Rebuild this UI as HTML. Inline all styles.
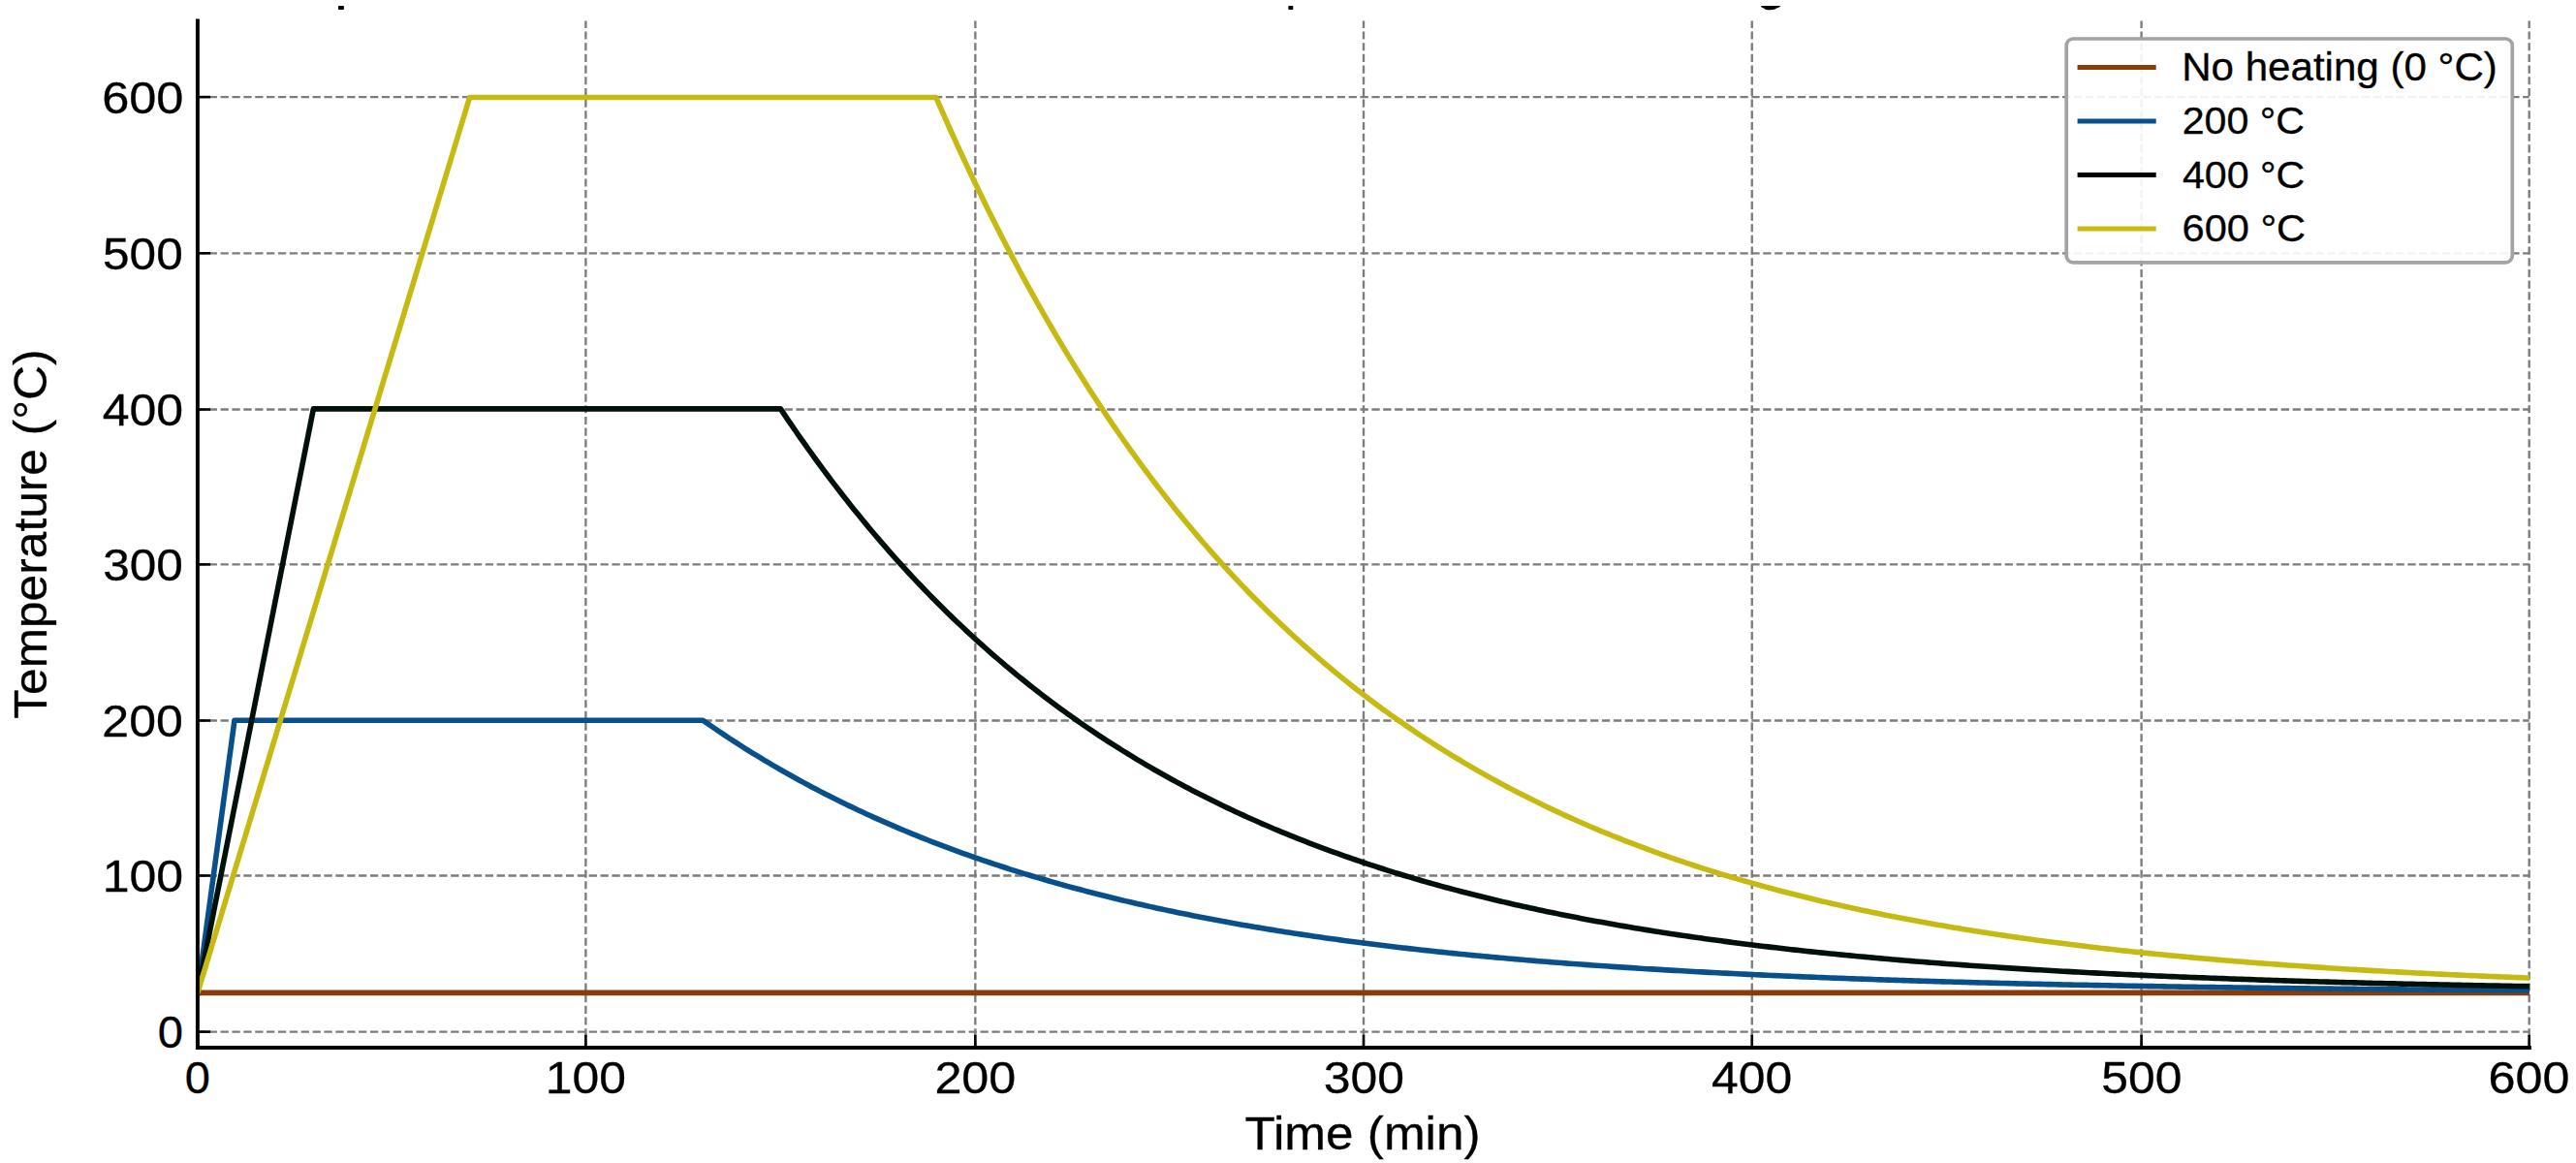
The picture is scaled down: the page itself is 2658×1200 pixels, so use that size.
<!DOCTYPE html>
<html><head><meta charset="utf-8"><title>Temperature profiles</title>
<style>html,body{margin:0;padding:0;background:#fff;width:2658px;height:1200px;overflow:hidden}svg{display:block}text{font-family:"Liberation Sans",sans-serif}</style>
</head><body>
<svg width="2658" height="1200" viewBox="0 0 2658 1200"><rect x="0" y="0" width="2658" height="1200" fill="#ffffff"/>
<g fill="#000">
<rect x="349" y="5.9" width="5.9" height="4.1" rx="0.8"/>
<rect x="1329.3" y="6.1" width="5" height="3.9" rx="0.8"/>
<path d="M1816.7 6 L1837.3 6 Q1836.5 7.6 1833 8.6 Q1831.5 10.3 1826.5 10.3 Q1821.5 10.3 1820.5 8.8 Q1817.3 8.0 1816.7 6 Z"/>
</g>
<g stroke="#7c7c7c" stroke-width="2.35" fill="none">
<g stroke-dasharray="8.29 3.588">
<path d="M203.8 1064.6 H2609.7"/>
<path d="M203.8 903.5 H2609.7"/>
<path d="M203.8 743.5 H2609.7"/>
<path d="M203.8 582.4 H2609.7"/>
<path d="M203.8 422.5 H2609.7"/>
<path d="M203.8 261.3 H2609.7"/>
<path d="M203.8 100.1 H2609.7"/>
</g>
<g stroke-dasharray="8.15 3.54">
<path d="M204.05 1081 V21.4"/>
<path d="M604.4 1081 V21.4"/>
<path d="M1006.35 1081 V21.4"/>
<path d="M1407 1081 V21.4"/>
<path d="M1807.75 1081 V21.4"/>
<path d="M2209.6 1081 V21.4"/>
<path d="M2609.7 1081 V21.4"/>
</g>
</g>
<defs><clipPath id="ax"><rect x="203.89" y="21.4" width="2406.01" height="1059.6"/></clipPath></defs>
<g clip-path="url(#ax)" fill="none" stroke-width="5.6" stroke-linejoin="round" stroke-linecap="square">
<path d="M203.89 1024.42 L2610.07 1024.42" stroke="#8a3b06"/>
<path d="M203.89 1024.42 L241.99 743.24 L725.23 743.24 L729.24 746.04 L733.25 748.81 L737.26 751.55 L741.27 754.27 L745.28 756.95 L749.29 759.61 L753.3 762.25 L757.31 764.86 L761.32 767.44 L765.33 770 L769.34 772.53 L773.35 775.04 L777.36 777.52 L781.37 779.97 L785.38 782.41 L789.39 784.81 L793.4 787.2 L797.41 789.56 L801.42 791.9 L805.43 794.21 L809.45 796.5 L813.46 798.77 L817.47 801.01 L821.48 803.24 L825.49 805.44 L829.5 807.62 L833.51 809.77 L837.52 811.91 L841.53 814.02 L845.54 816.12 L849.55 818.19 L853.56 820.24 L857.57 822.27 L861.58 824.28 L865.59 826.28 L869.6 828.25 L873.61 830.2 L877.62 832.13 L881.63 834.05 L885.64 835.94 L889.65 837.82 L893.66 839.67 L897.67 841.51 L901.68 843.33 L905.69 845.13 L909.7 846.92 L913.71 848.68 L917.72 850.43 L921.73 852.16 L925.74 853.88 L929.75 855.57 L933.76 857.25 L937.77 858.92 L941.79 860.56 L945.8 862.19 L949.81 863.81 L953.82 865.41 L957.83 866.99 L961.84 868.55 L965.85 870.11 L969.86 871.64 L973.87 873.16 L977.88 874.67 L981.89 876.16 L985.9 877.63 L989.91 879.09 L993.92 880.54 L997.93 881.97 L1001.94 883.39 L1005.95 884.79 L1009.96 886.18 L1013.97 887.56 L1017.98 888.92 L1021.99 890.27 L1026 891.6 L1030.01 892.92 L1034.02 894.23 L1038.03 895.53 L1042.04 896.81 L1046.05 898.08 L1050.06 899.34 L1054.07 900.58 L1058.08 901.81 L1062.09 903.03 L1066.1 904.24 L1070.11 905.44 L1074.13 906.62 L1078.14 907.79 L1082.15 908.95 L1086.16 910.1 L1090.17 911.24 L1094.18 912.37 L1098.19 913.48 L1102.2 914.58 L1106.21 915.68 L1110.22 916.76 L1114.23 917.83 L1118.24 918.89 L1122.25 919.94 L1126.26 920.98 L1130.27 922.01 L1134.28 923.03 L1138.29 924.04 L1142.3 925.04 L1146.31 926.03 L1150.32 927 L1154.33 927.97 L1158.34 928.93 L1162.35 929.88 L1166.36 930.82 L1170.37 931.76 L1174.38 932.68 L1178.39 933.59 L1182.4 934.49 L1186.41 935.39 L1190.42 936.27 L1194.43 937.15 L1198.44 938.02 L1202.45 938.88 L1206.47 939.73 L1210.48 940.57 L1214.49 941.41 L1218.5 942.23 L1222.51 943.05 L1226.52 943.86 L1230.53 944.66 L1234.54 945.46 L1238.55 946.24 L1242.56 947.02 L1246.57 947.79 L1250.58 948.55 L1254.59 949.31 L1258.6 950.06 L1262.61 950.8 L1266.62 951.53 L1270.63 952.25 L1274.64 952.97 L1278.65 953.68 L1282.66 954.39 L1286.67 955.08 L1290.68 955.77 L1294.69 956.46 L1298.7 957.13 L1302.71 957.8 L1306.72 958.46 L1310.73 959.12 L1314.74 959.77 L1318.75 960.41 L1322.76 961.05 L1326.77 961.68 L1330.78 962.31 L1334.79 962.92 L1338.8 963.54 L1342.82 964.14 L1346.83 964.74 L1350.84 965.33 L1354.85 965.92 L1358.86 966.5 L1362.87 967.08 L1366.88 967.65 L1370.89 968.22 L1374.9 968.78 L1378.91 969.33 L1382.92 969.88 L1386.93 970.42 L1390.94 970.96 L1394.95 971.49 L1398.96 972.02 L1402.97 972.54 L1406.98 973.05 L1410.99 973.57 L1415 974.07 L1419.01 974.57 L1423.02 975.07 L1427.03 975.56 L1431.04 976.05 L1435.05 976.53 L1439.06 977 L1443.07 977.48 L1447.08 977.94 L1451.09 978.4 L1455.1 978.86 L1459.11 979.32 L1463.12 979.76 L1467.13 980.21 L1471.14 980.65 L1475.16 981.08 L1479.17 981.52 L1483.18 981.94 L1487.19 982.37 L1491.2 982.78 L1495.21 983.2 L1499.22 983.61 L1503.23 984.01 L1507.24 984.42 L1511.25 984.81 L1515.26 985.21 L1519.27 985.6 L1523.28 985.99 L1527.29 986.37 L1531.3 986.75 L1535.31 987.12 L1539.32 987.49 L1543.33 987.86 L1547.34 988.22 L1551.35 988.58 L1555.36 988.94 L1559.37 989.29 L1563.38 989.64 L1567.39 989.99 L1571.4 990.33 L1575.41 990.67 L1579.42 991.01 L1583.43 991.34 L1587.44 991.67 L1591.45 991.99 L1595.46 992.32 L1599.47 992.64 L1603.48 992.95 L1607.49 993.27 L1611.51 993.58 L1615.52 993.88 L1619.53 994.19 L1623.54 994.49 L1627.55 994.78 L1631.56 995.08 L1635.57 995.37 L1639.58 995.66 L1643.59 995.95 L1647.6 996.23 L1651.61 996.51 L1655.62 996.79 L1659.63 997.06 L1663.64 997.34 L1667.65 997.61 L1671.66 997.87 L1675.67 998.14 L1679.68 998.4 L1683.69 998.66 L1687.7 998.91 L1691.71 999.17 L1695.72 999.42 L1699.73 999.67 L1703.74 999.91 L1707.75 1000.16 L1711.76 1000.4 L1715.77 1000.64 L1719.78 1000.87 L1723.79 1001.11 L1727.8 1001.34 L1731.81 1001.57 L1735.82 1001.8 L1739.83 1002.02 L1743.85 1002.25 L1747.86 1002.47 L1751.87 1002.68 L1755.88 1002.9 L1759.89 1003.12 L1763.9 1003.33 L1767.91 1003.54 L1771.92 1003.74 L1775.93 1003.95 L1779.94 1004.15 L1783.95 1004.36 L1787.96 1004.56 L1791.97 1004.75 L1795.98 1004.95 L1799.99 1005.14 L1804 1005.33 L1808.01 1005.52 L1812.02 1005.71 L1816.03 1005.9 L1820.04 1006.08 L1824.05 1006.27 L1828.06 1006.45 L1832.07 1006.62 L1836.08 1006.8 L1840.09 1006.98 L1844.1 1007.15 L1848.11 1007.32 L1852.12 1007.49 L1856.13 1007.66 L1860.14 1007.83 L1864.15 1007.99 L1868.16 1008.16 L1872.17 1008.32 L1876.19 1008.48 L1880.2 1008.64 L1884.21 1008.79 L1888.22 1008.95 L1892.23 1009.1 L1896.24 1009.26 L1900.25 1009.41 L1904.26 1009.56 L1908.27 1009.7 L1912.28 1009.85 L1916.29 1010 L1920.3 1010.14 L1924.31 1010.28 L1928.32 1010.42 L1932.33 1010.56 L1936.34 1010.7 L1940.35 1010.84 L1944.36 1010.97 L1948.37 1011.1 L1952.38 1011.24 L1956.39 1011.37 L1960.4 1011.5 L1964.41 1011.63 L1968.42 1011.75 L1972.43 1011.88 L1976.44 1012.01 L1980.45 1012.13 L1984.46 1012.25 L1988.47 1012.37 L1992.48 1012.49 L1996.49 1012.61 L2000.5 1012.73 L2004.51 1012.84 L2008.53 1012.96 L2012.54 1013.07 L2016.55 1013.19 L2020.56 1013.3 L2024.57 1013.41 L2028.58 1013.52 L2032.59 1013.63 L2036.6 1013.73 L2040.61 1013.84 L2044.62 1013.95 L2048.63 1014.05 L2052.64 1014.15 L2056.65 1014.26 L2060.66 1014.36 L2064.67 1014.46 L2068.68 1014.56 L2072.69 1014.65 L2076.7 1014.75 L2080.71 1014.85 L2084.72 1014.94 L2088.73 1015.04 L2092.74 1015.13 L2096.75 1015.22 L2100.76 1015.31 L2104.77 1015.41 L2108.78 1015.49 L2112.79 1015.58 L2116.8 1015.67 L2120.81 1015.76 L2124.82 1015.84 L2128.83 1015.93 L2132.84 1016.01 L2136.85 1016.1 L2140.86 1016.18 L2144.88 1016.26 L2148.89 1016.34 L2152.9 1016.42 L2156.91 1016.5 L2160.92 1016.58 L2164.93 1016.66 L2168.94 1016.74 L2172.95 1016.81 L2176.96 1016.89 L2180.97 1016.97 L2184.98 1017.04 L2188.99 1017.11 L2193 1017.19 L2197.01 1017.26 L2201.02 1017.33 L2205.03 1017.4 L2209.04 1017.47 L2213.05 1017.54 L2217.06 1017.61 L2221.07 1017.67 L2225.08 1017.74 L2229.09 1017.81 L2233.1 1017.87 L2237.11 1017.94 L2241.12 1018 L2245.13 1018.07 L2249.14 1018.13 L2253.15 1018.19 L2257.16 1018.26 L2261.17 1018.32 L2265.18 1018.38 L2269.19 1018.44 L2273.2 1018.5 L2277.22 1018.56 L2281.23 1018.61 L2285.24 1018.67 L2289.25 1018.73 L2293.26 1018.79 L2297.27 1018.84 L2301.28 1018.9 L2305.29 1018.95 L2309.3 1019.01 L2313.31 1019.06 L2317.32 1019.11 L2321.33 1019.17 L2325.34 1019.22 L2329.35 1019.27 L2333.36 1019.32 L2337.37 1019.37 L2341.38 1019.42 L2345.39 1019.47 L2349.4 1019.52 L2353.41 1019.57 L2357.42 1019.62 L2361.43 1019.67 L2365.44 1019.71 L2369.45 1019.76 L2373.46 1019.81 L2377.47 1019.85 L2381.48 1019.9 L2385.49 1019.94 L2389.5 1019.99 L2393.51 1020.03 L2397.52 1020.08 L2401.53 1020.12 L2405.54 1020.16 L2409.55 1020.2 L2413.57 1020.25 L2417.58 1020.29 L2421.59 1020.33 L2425.6 1020.37 L2429.61 1020.41 L2433.62 1020.45 L2437.63 1020.49 L2441.64 1020.53 L2445.65 1020.57 L2449.66 1020.61 L2453.67 1020.64 L2457.68 1020.68 L2461.69 1020.72 L2465.7 1020.76 L2469.71 1020.79 L2473.72 1020.83 L2477.73 1020.86 L2481.74 1020.9 L2485.75 1020.93 L2489.76 1020.97 L2493.77 1021 L2497.78 1021.04 L2501.79 1021.07 L2505.8 1021.1 L2509.81 1021.14 L2513.82 1021.17 L2517.83 1021.2 L2521.84 1021.23 L2525.85 1021.27 L2529.86 1021.3 L2533.87 1021.33 L2537.88 1021.36 L2541.89 1021.39 L2545.91 1021.42 L2549.92 1021.45 L2553.93 1021.48 L2557.94 1021.51 L2561.95 1021.54 L2565.96 1021.57 L2569.97 1021.59 L2573.98 1021.62 L2577.99 1021.65 L2582 1021.68 L2586.01 1021.71 L2590.02 1021.73 L2594.03 1021.76 L2598.04 1021.79 L2602.05 1021.81 L2606.06 1021.84 L2610.07 1021.86" stroke="#07508c"/>
<path d="M203.89 1024.42 L323.4 421.89 L805.43 421.89 L809.45 427.89 L813.46 433.82 L817.47 439.7 L821.48 445.52 L825.49 451.28 L829.5 456.98 L833.51 462.62 L837.52 468.21 L841.53 473.75 L845.54 479.23 L849.55 484.65 L853.56 490.02 L857.57 495.34 L861.58 500.61 L865.59 505.82 L869.6 510.98 L873.61 516.09 L877.62 521.14 L881.63 526.15 L885.64 531.11 L889.65 536.02 L893.66 540.88 L897.67 545.69 L901.68 550.45 L905.69 555.17 L909.7 559.84 L913.71 564.46 L917.72 569.04 L921.73 573.57 L925.74 578.06 L929.75 582.5 L933.76 586.89 L937.77 591.25 L941.79 595.56 L945.8 599.82 L949.81 604.05 L953.82 608.23 L957.83 612.37 L961.84 616.47 L965.85 620.53 L969.86 624.55 L973.87 628.53 L977.88 632.47 L981.89 636.37 L985.9 640.23 L989.91 644.05 L993.92 647.84 L997.93 651.58 L1001.94 655.29 L1005.95 658.97 L1009.96 662.6 L1013.97 666.2 L1017.98 669.77 L1021.99 673.3 L1026 676.79 L1030.01 680.25 L1034.02 683.67 L1038.03 687.06 L1042.04 690.42 L1046.05 693.75 L1050.06 697.04 L1054.07 700.29 L1058.08 703.52 L1062.09 706.71 L1066.1 709.87 L1070.11 713 L1074.13 716.1 L1078.14 719.17 L1082.15 722.21 L1086.16 725.21 L1090.17 728.19 L1094.18 731.14 L1098.19 734.06 L1102.2 736.95 L1106.21 739.81 L1110.22 742.64 L1114.23 745.44 L1118.24 748.22 L1122.25 750.97 L1126.26 753.69 L1130.27 756.38 L1134.28 759.05 L1138.29 761.69 L1142.3 764.3 L1146.31 766.89 L1150.32 769.45 L1154.33 771.99 L1158.34 774.5 L1162.35 776.99 L1166.36 779.45 L1170.37 781.89 L1174.38 784.3 L1178.39 786.69 L1182.4 789.06 L1186.41 791.4 L1190.42 793.72 L1194.43 796.01 L1198.44 798.28 L1202.45 800.53 L1206.47 802.76 L1210.48 804.97 L1214.49 807.15 L1218.5 809.31 L1222.51 811.45 L1226.52 813.57 L1230.53 815.67 L1234.54 817.75 L1238.55 819.8 L1242.56 821.84 L1246.57 823.86 L1250.58 825.85 L1254.59 827.83 L1258.6 829.78 L1262.61 831.72 L1266.62 833.64 L1270.63 835.54 L1274.64 837.42 L1278.65 839.28 L1282.66 841.12 L1286.67 842.94 L1290.68 844.75 L1294.69 846.54 L1298.7 848.31 L1302.71 850.06 L1306.72 851.79 L1310.73 853.51 L1314.74 855.21 L1318.75 856.9 L1322.76 858.56 L1326.77 860.21 L1330.78 861.85 L1334.79 863.46 L1338.8 865.07 L1342.82 866.65 L1346.83 868.22 L1350.84 869.78 L1354.85 871.31 L1358.86 872.84 L1362.87 874.35 L1366.88 875.84 L1370.89 877.32 L1374.9 878.78 L1378.91 880.23 L1382.92 881.66 L1386.93 883.09 L1390.94 884.49 L1394.95 885.88 L1398.96 887.26 L1402.97 888.63 L1406.98 889.98 L1410.99 891.32 L1415 892.64 L1419.01 893.95 L1423.02 895.25 L1427.03 896.54 L1431.04 897.81 L1435.05 899.07 L1439.06 900.31 L1443.07 901.55 L1447.08 902.77 L1451.09 903.98 L1455.1 905.18 L1459.11 906.37 L1463.12 907.54 L1467.13 908.71 L1471.14 909.86 L1475.16 911 L1479.17 912.13 L1483.18 913.24 L1487.19 914.35 L1491.2 915.44 L1495.21 916.53 L1499.22 917.6 L1503.23 918.66 L1507.24 919.72 L1511.25 920.76 L1515.26 921.79 L1519.27 922.81 L1523.28 923.82 L1527.29 924.82 L1531.3 925.81 L1535.31 926.8 L1539.32 927.77 L1543.33 928.73 L1547.34 929.68 L1551.35 930.62 L1555.36 931.56 L1559.37 932.48 L1563.38 933.4 L1567.39 934.3 L1571.4 935.2 L1575.41 936.09 L1579.42 936.96 L1583.43 937.84 L1587.44 938.7 L1591.45 939.55 L1595.46 940.39 L1599.47 941.23 L1603.48 942.06 L1607.49 942.88 L1611.51 943.69 L1615.52 944.49 L1619.53 945.29 L1623.54 946.07 L1627.55 946.85 L1631.56 947.63 L1635.57 948.39 L1639.58 949.15 L1643.59 949.9 L1647.6 950.64 L1651.61 951.37 L1655.62 952.1 L1659.63 952.82 L1663.64 953.53 L1667.65 954.24 L1671.66 954.93 L1675.67 955.63 L1679.68 956.31 L1683.69 956.99 L1687.7 957.66 L1691.71 958.32 L1695.72 958.98 L1699.73 959.63 L1703.74 960.28 L1707.75 960.91 L1711.76 961.55 L1715.77 962.17 L1719.78 962.79 L1723.79 963.41 L1727.8 964.01 L1731.81 964.61 L1735.82 965.21 L1739.83 965.8 L1743.85 966.38 L1747.86 966.96 L1751.87 967.53 L1755.88 968.1 L1759.89 968.66 L1763.9 969.21 L1767.91 969.76 L1771.92 970.3 L1775.93 970.84 L1779.94 971.38 L1783.95 971.9 L1787.96 972.43 L1791.97 972.94 L1795.98 973.46 L1799.99 973.96 L1804 974.47 L1808.01 974.96 L1812.02 975.45 L1816.03 975.94 L1820.04 976.42 L1824.05 976.9 L1828.06 977.37 L1832.07 977.84 L1836.08 978.31 L1840.09 978.77 L1844.1 979.22 L1848.11 979.67 L1852.12 980.11 L1856.13 980.56 L1860.14 980.99 L1864.15 981.42 L1868.16 981.85 L1872.17 982.28 L1876.19 982.69 L1880.2 983.11 L1884.21 983.52 L1888.22 983.93 L1892.23 984.33 L1896.24 984.73 L1900.25 985.12 L1904.26 985.52 L1908.27 985.9 L1912.28 986.29 L1916.29 986.67 L1920.3 987.04 L1924.31 987.41 L1928.32 987.78 L1932.33 988.15 L1936.34 988.51 L1940.35 988.86 L1944.36 989.22 L1948.37 989.57 L1952.38 989.92 L1956.39 990.26 L1960.4 990.6 L1964.41 990.93 L1968.42 991.27 L1972.43 991.6 L1976.44 991.92 L1980.45 992.25 L1984.46 992.57 L1988.47 992.88 L1992.48 993.2 L1996.49 993.51 L2000.5 993.82 L2004.51 994.12 L2008.53 994.42 L2012.54 994.72 L2016.55 995.02 L2020.56 995.31 L2024.57 995.6 L2028.58 995.89 L2032.59 996.17 L2036.6 996.45 L2040.61 996.73 L2044.62 997 L2048.63 997.28 L2052.64 997.55 L2056.65 997.82 L2060.66 998.08 L2064.67 998.34 L2068.68 998.6 L2072.69 998.86 L2076.7 999.11 L2080.71 999.36 L2084.72 999.61 L2088.73 999.86 L2092.74 1000.11 L2096.75 1000.35 L2100.76 1000.59 L2104.77 1000.82 L2108.78 1001.06 L2112.79 1001.29 L2116.8 1001.52 L2120.81 1001.75 L2124.82 1001.97 L2128.83 1002.2 L2132.84 1002.42 L2136.85 1002.64 L2140.86 1002.85 L2144.88 1003.07 L2148.89 1003.28 L2152.9 1003.49 L2156.91 1003.7 L2160.92 1003.91 L2164.93 1004.11 L2168.94 1004.31 L2172.95 1004.51 L2176.96 1004.71 L2180.97 1004.91 L2184.98 1005.1 L2188.99 1005.29 L2193 1005.48 L2197.01 1005.67 L2201.02 1005.86 L2205.03 1006.04 L2209.04 1006.23 L2213.05 1006.41 L2217.06 1006.59 L2221.07 1006.76 L2225.08 1006.94 L2229.09 1007.11 L2233.1 1007.29 L2237.11 1007.46 L2241.12 1007.63 L2245.13 1007.79 L2249.14 1007.96 L2253.15 1008.12 L2257.16 1008.28 L2261.17 1008.44 L2265.18 1008.6 L2269.19 1008.76 L2273.2 1008.92 L2277.22 1009.07 L2281.23 1009.22 L2285.24 1009.37 L2289.25 1009.52 L2293.26 1009.67 L2297.27 1009.82 L2301.28 1009.96 L2305.29 1010.11 L2309.3 1010.25 L2313.31 1010.39 L2317.32 1010.53 L2321.33 1010.67 L2325.34 1010.81 L2329.35 1010.94 L2333.36 1011.08 L2337.37 1011.21 L2341.38 1011.34 L2345.39 1011.47 L2349.4 1011.6 L2353.41 1011.73 L2357.42 1011.85 L2361.43 1011.98 L2365.44 1012.1 L2369.45 1012.22 L2373.46 1012.35 L2377.47 1012.47 L2381.48 1012.59 L2385.49 1012.7 L2389.5 1012.82 L2393.51 1012.94 L2397.52 1013.05 L2401.53 1013.16 L2405.54 1013.27 L2409.55 1013.39 L2413.57 1013.5 L2417.58 1013.6 L2421.59 1013.71 L2425.6 1013.82 L2429.61 1013.92 L2433.62 1014.03 L2437.63 1014.13 L2441.64 1014.23 L2445.65 1014.34 L2449.66 1014.44 L2453.67 1014.54 L2457.68 1014.63 L2461.69 1014.73 L2465.7 1014.83 L2469.71 1014.92 L2473.72 1015.02 L2477.73 1015.11 L2481.74 1015.2 L2485.75 1015.3 L2489.76 1015.39 L2493.77 1015.48 L2497.78 1015.56 L2501.79 1015.65 L2505.8 1015.74 L2509.81 1015.83 L2513.82 1015.91 L2517.83 1016 L2521.84 1016.08 L2525.85 1016.16 L2529.86 1016.25 L2533.87 1016.33 L2537.88 1016.41 L2541.89 1016.49 L2545.91 1016.57 L2549.92 1016.64 L2553.93 1016.72 L2557.94 1016.8 L2561.95 1016.87 L2565.96 1016.95 L2569.97 1017.02 L2573.98 1017.1 L2577.99 1017.17 L2582 1017.24 L2586.01 1017.31 L2590.02 1017.38 L2594.03 1017.45 L2598.04 1017.52 L2602.05 1017.59 L2606.06 1017.66 L2610.07 1017.73" stroke="#02100a"/>
<path d="M203.89 1024.42 L484.61 100.54 L965.85 100.54 L969.86 109.73 L973.87 118.83 L977.88 127.84 L981.89 136.77 L985.9 145.6 L989.91 154.34 L993.92 163 L997.93 171.57 L1001.94 180.06 L1005.95 188.46 L1009.96 196.78 L1013.97 205.01 L1017.98 213.17 L1021.99 221.24 L1026 229.23 L1030.01 237.14 L1034.02 244.98 L1038.03 252.73 L1042.04 260.41 L1046.05 268.01 L1050.06 275.54 L1054.07 282.99 L1058.08 290.37 L1062.09 297.67 L1066.1 304.9 L1070.11 312.06 L1074.13 319.15 L1078.14 326.17 L1082.15 333.11 L1086.16 339.99 L1090.17 346.8 L1094.18 353.55 L1098.19 360.22 L1102.2 366.83 L1106.21 373.37 L1110.22 379.85 L1114.23 386.26 L1118.24 392.61 L1122.25 398.9 L1126.26 405.13 L1130.27 411.29 L1134.28 417.39 L1138.29 423.43 L1142.3 429.41 L1146.31 435.33 L1150.32 441.19 L1154.33 446.99 L1158.34 452.74 L1162.35 458.43 L1166.36 464.06 L1170.37 469.63 L1174.38 475.15 L1178.39 480.62 L1182.4 486.03 L1186.41 491.39 L1190.42 496.69 L1194.43 501.94 L1198.44 507.14 L1202.45 512.29 L1206.47 517.38 L1210.48 522.43 L1214.49 527.42 L1218.5 532.37 L1222.51 537.27 L1226.52 542.11 L1230.53 546.91 L1234.54 551.66 L1238.55 556.37 L1242.56 561.02 L1246.57 565.64 L1250.58 570.2 L1254.59 574.72 L1258.6 579.19 L1262.61 583.62 L1266.62 588.01 L1270.63 592.35 L1274.64 596.65 L1278.65 600.91 L1282.66 605.12 L1286.67 609.29 L1290.68 613.43 L1294.69 617.51 L1298.7 621.56 L1302.71 625.57 L1306.72 629.54 L1310.73 633.47 L1314.74 637.36 L1318.75 641.21 L1322.76 645.02 L1326.77 648.8 L1330.78 652.54 L1334.79 656.24 L1338.8 659.9 L1342.82 663.53 L1346.83 667.12 L1350.84 670.67 L1354.85 674.19 L1358.86 677.68 L1362.87 681.13 L1366.88 684.54 L1370.89 687.93 L1374.9 691.27 L1378.91 694.59 L1382.92 697.87 L1386.93 701.12 L1390.94 704.34 L1394.95 707.52 L1398.96 710.68 L1402.97 713.8 L1406.98 716.89 L1410.99 719.95 L1415 722.98 L1419.01 725.98 L1423.02 728.95 L1427.03 731.89 L1431.04 734.8 L1435.05 737.68 L1439.06 740.53 L1443.07 743.36 L1447.08 746.15 L1451.09 748.92 L1455.1 751.66 L1459.11 754.38 L1463.12 757.06 L1467.13 759.72 L1471.14 762.36 L1475.16 764.97 L1479.17 767.55 L1483.18 770.1 L1487.19 772.63 L1491.2 775.14 L1495.21 777.62 L1499.22 780.08 L1503.23 782.51 L1507.24 784.91 L1511.25 787.3 L1515.26 789.66 L1519.27 791.99 L1523.28 794.31 L1527.29 796.59 L1531.3 798.86 L1535.31 801.11 L1539.32 803.33 L1543.33 805.53 L1547.34 807.71 L1551.35 809.86 L1555.36 812 L1559.37 814.11 L1563.38 816.2 L1567.39 818.28 L1571.4 820.33 L1575.41 822.36 L1579.42 824.37 L1583.43 826.36 L1587.44 828.33 L1591.45 830.28 L1595.46 832.21 L1599.47 834.12 L1603.48 836.02 L1607.49 837.89 L1611.51 839.75 L1615.52 841.59 L1619.53 843.41 L1623.54 845.21 L1627.55 846.99 L1631.56 848.76 L1635.57 850.5 L1639.58 852.23 L1643.59 853.95 L1647.6 855.64 L1651.61 857.32 L1655.62 858.99 L1659.63 860.63 L1663.64 862.26 L1667.65 863.87 L1671.66 865.47 L1675.67 867.05 L1679.68 868.62 L1683.69 870.17 L1687.7 871.7 L1691.71 873.22 L1695.72 874.73 L1699.73 876.22 L1703.74 877.69 L1707.75 879.15 L1711.76 880.6 L1715.77 882.03 L1719.78 883.45 L1723.79 884.85 L1727.8 886.24 L1731.81 887.61 L1735.82 888.97 L1739.83 890.32 L1743.85 891.66 L1747.86 892.98 L1751.87 894.28 L1755.88 895.58 L1759.89 896.86 L1763.9 898.13 L1767.91 899.39 L1771.92 900.63 L1775.93 901.86 L1779.94 903.08 L1783.95 904.29 L1787.96 905.49 L1791.97 906.67 L1795.98 907.84 L1799.99 909 L1804 910.15 L1808.01 911.29 L1812.02 912.41 L1816.03 913.53 L1820.04 914.63 L1824.05 915.72 L1828.06 916.8 L1832.07 917.87 L1836.08 918.93 L1840.09 919.98 L1844.1 921.02 L1848.11 922.05 L1852.12 923.07 L1856.13 924.08 L1860.14 925.08 L1864.15 926.07 L1868.16 927.04 L1872.17 928.01 L1876.19 928.97 L1880.2 929.92 L1884.21 930.86 L1888.22 931.79 L1892.23 932.72 L1896.24 933.63 L1900.25 934.53 L1904.26 935.43 L1908.27 936.31 L1912.28 937.19 L1916.29 938.06 L1920.3 938.92 L1924.31 939.77 L1928.32 940.61 L1932.33 941.44 L1936.34 942.27 L1940.35 943.09 L1944.36 943.89 L1948.37 944.7 L1952.38 945.49 L1956.39 946.27 L1960.4 947.05 L1964.41 947.82 L1968.42 948.58 L1972.43 949.34 L1976.44 950.09 L1980.45 950.83 L1984.46 951.56 L1988.47 952.28 L1992.48 953 L1996.49 953.71 L2000.5 954.42 L2004.51 955.11 L2008.53 955.8 L2012.54 956.48 L2016.55 957.16 L2020.56 957.83 L2024.57 958.49 L2028.58 959.15 L2032.59 959.8 L2036.6 960.44 L2040.61 961.08 L2044.62 961.71 L2048.63 962.33 L2052.64 962.95 L2056.65 963.56 L2060.66 964.17 L2064.67 964.77 L2068.68 965.36 L2072.69 965.95 L2076.7 966.53 L2080.71 967.11 L2084.72 967.68 L2088.73 968.24 L2092.74 968.8 L2096.75 969.35 L2100.76 969.9 L2104.77 970.44 L2108.78 970.98 L2112.79 971.51 L2116.8 972.04 L2120.81 972.56 L2124.82 973.08 L2128.83 973.59 L2132.84 974.09 L2136.85 974.59 L2140.86 975.09 L2144.88 975.58 L2148.89 976.07 L2152.9 976.55 L2156.91 977.02 L2160.92 977.49 L2164.93 977.96 L2168.94 978.42 L2172.95 978.88 L2176.96 979.33 L2180.97 979.78 L2184.98 980.23 L2188.99 980.67 L2193 981.1 L2197.01 981.53 L2201.02 981.96 L2205.03 982.38 L2209.04 982.8 L2213.05 983.22 L2217.06 983.63 L2221.07 984.03 L2225.08 984.43 L2229.09 984.83 L2233.1 985.22 L2237.11 985.61 L2241.12 986 L2245.13 986.38 L2249.14 986.76 L2253.15 987.14 L2257.16 987.51 L2261.17 987.87 L2265.18 988.24 L2269.19 988.6 L2273.2 988.95 L2277.22 989.31 L2281.23 989.66 L2285.24 990 L2289.25 990.35 L2293.26 990.68 L2297.27 991.02 L2301.28 991.35 L2305.29 991.68 L2309.3 992.01 L2313.31 992.33 L2317.32 992.65 L2321.33 992.97 L2325.34 993.28 L2329.35 993.59 L2333.36 993.9 L2337.37 994.2 L2341.38 994.5 L2345.39 994.8 L2349.4 995.09 L2353.41 995.38 L2357.42 995.67 L2361.43 995.96 L2365.44 996.24 L2369.45 996.52 L2373.46 996.8 L2377.47 997.07 L2381.48 997.35 L2385.49 997.62 L2389.5 997.88 L2393.51 998.15 L2397.52 998.41 L2401.53 998.67 L2405.54 998.92 L2409.55 999.18 L2413.57 999.43 L2417.58 999.68 L2421.59 999.92 L2425.6 1000.17 L2429.61 1000.41 L2433.62 1000.65 L2437.63 1000.88 L2441.64 1001.12 L2445.65 1001.35 L2449.66 1001.58 L2453.67 1001.81 L2457.68 1002.03 L2461.69 1002.25 L2465.7 1002.48 L2469.71 1002.69 L2473.72 1002.91 L2477.73 1003.12 L2481.74 1003.34 L2485.75 1003.55 L2489.76 1003.75 L2493.77 1003.96 L2497.78 1004.16 L2501.79 1004.36 L2505.8 1004.56 L2509.81 1004.76 L2513.82 1004.96 L2517.83 1005.15 L2521.84 1005.34 L2525.85 1005.53 L2529.86 1005.72 L2533.87 1005.91 L2537.88 1006.09 L2541.89 1006.27 L2545.91 1006.45 L2549.92 1006.63 L2553.93 1006.81 L2557.94 1006.98 L2561.95 1007.16 L2565.96 1007.33 L2569.97 1007.5 L2573.98 1007.67 L2577.99 1007.83 L2582 1008 L2586.01 1008.16 L2590.02 1008.33 L2594.03 1008.49 L2598.04 1008.64 L2602.05 1008.8 L2606.06 1008.96 L2610.07 1009.11" stroke="#c6ba12"/>
</g>
<g stroke="#000" fill="none">
<path d="M203.89 21.4 V1081 H2609.9" stroke-width="3.9" stroke-linecap="square" stroke-linejoin="miter"/>
<path d="M203.89 1064.6 h13.2" stroke-width="2.6"/>
<path d="M203.89 903.5 h13.2" stroke-width="2.6"/>
<path d="M203.89 743.5 h13.2" stroke-width="2.6"/>
<path d="M203.89 582.4 h13.2" stroke-width="2.6"/>
<path d="M203.89 422.5 h13.2" stroke-width="2.6"/>
<path d="M203.89 261.3 h13.2" stroke-width="2.6"/>
<path d="M203.89 100.1 h13.2" stroke-width="2.6"/>
<path d="M204.05 1081 v-13.2" stroke-width="2.6"/>
<path d="M604.4 1081 v-13.2" stroke-width="2.6"/>
<path d="M1006.35 1081 v-13.2" stroke-width="2.6"/>
<path d="M1407 1081 v-13.2" stroke-width="2.6"/>
<path d="M1807.75 1081 v-13.2" stroke-width="2.6"/>
<path d="M2209.6 1081 v-13.2" stroke-width="2.6"/>
<path d="M2609.7 1081 v-13.2" stroke-width="2.6"/>
</g>
<g font-family="Liberation Sans" fill="#000" stroke="#000" stroke-width="0.3">
<text transform="matrix(1.01 0 0 1 162.64 1081.2)" font-size="46.74">0</text>
<text transform="matrix(1.07 0 0 1 105.76 920.1)" font-size="46.74">100</text>
<text transform="matrix(1.07 0 0 1 105.36 760.1)" font-size="46.74">200</text>
<text transform="matrix(1.06 0 0 1 106.14 599)" font-size="46.74">300</text>
<text transform="matrix(1.07 0 0 1 105.65 439.1)" font-size="46.74">400</text>
<text transform="matrix(1.06 0 0 1 106.05 277.9)" font-size="46.74">500</text>
<text transform="matrix(1.08 0 0 1 105.2 116.7)" font-size="46.74">600</text>
<text transform="matrix(1.01 0 0 1 190.86 1127.6)" font-size="46.59">0</text>
<text transform="matrix(1.07 0 0 1 562.83 1127.6)" font-size="46.59">100</text>
<text transform="matrix(1.08 0 0 1 964.38 1127.6)" font-size="46.59">200</text>
<text transform="matrix(1.07 0 0 1 1365.81 1127.6)" font-size="46.59">300</text>
<text transform="matrix(1.07 0 0 1 1766.07 1127.6)" font-size="46.59">400</text>
<text transform="matrix(1.07 0 0 1 2168.32 1127.6)" font-size="46.59">500</text>
<text transform="matrix(1.08 0 0 1 2567.57 1127.6)" font-size="46.59">600</text>
<text transform="matrix(1.07 0 0 1 1284.54 1185.9)" font-size="47.93">Time (min)</text>
<text transform="matrix(0 -1.03 1 0 48.4 741.81)" font-size="48.22">Temperature (°C)</text>
</g>
<g>
<rect x="2132.2" y="40" width="460.1" height="230.8" rx="7" ry="7" fill="#ffffff" fill-opacity="0.9" stroke="#a3a3a3" stroke-width="3.7"/>
<path d="M2143.6 69.4 H2224.7" stroke="#8a3b06" stroke-width="5" fill="none"/>
<g font-family="Liberation Sans" fill="#000" stroke="#000" stroke-width="0.3"><text transform="matrix(1.05 0 0 1 2251.2 82.7)" font-size="40.09">No heating (0 °C)</text></g>
<path d="M2143.6 124.9 H2224.7" stroke="#07508c" stroke-width="5" fill="none"/>
<g font-family="Liberation Sans" fill="#000" stroke="#000" stroke-width="0.3"><text transform="matrix(1.04 0 0 1 2251.67 138.2)" font-size="39.57">200 °C</text></g>
<path d="M2143.6 180.4 H2224.7" stroke="#000000" stroke-width="5" fill="none"/>
<g font-family="Liberation Sans" fill="#000" stroke="#000" stroke-width="0.3"><text transform="matrix(1.04 0 0 1 2251.9 193.7)" font-size="39.57">400 °C</text></g>
<path d="M2143.6 235.9 H2224.7" stroke="#c6ba12" stroke-width="5" fill="none"/>
<g font-family="Liberation Sans" fill="#000" stroke="#000" stroke-width="0.3"><text transform="matrix(1.05 0 0 1 2251.54 249.2)" font-size="39.57">600 °C</text></g>
</g></svg>
</body></html>
